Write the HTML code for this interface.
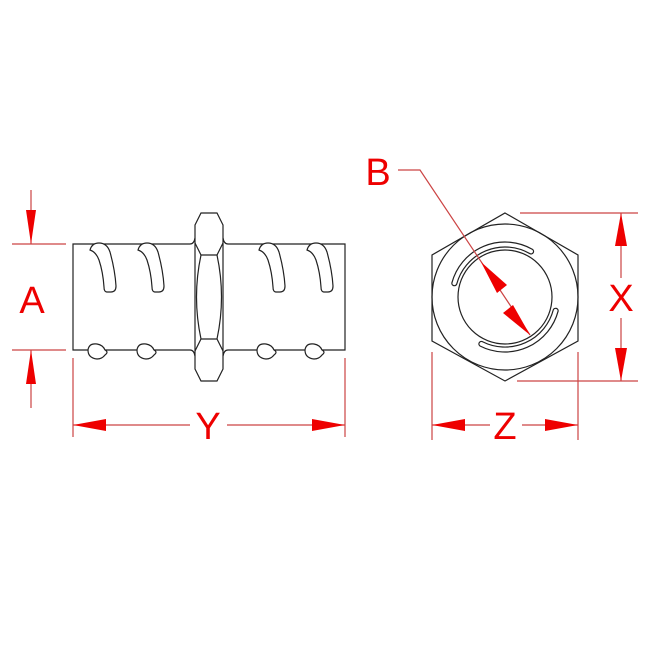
<!DOCTYPE html>
<html><head><style>html,body{margin:0;padding:0;background:#fff}</style></head><body>
<svg width="650" height="640" viewBox="0 0 650 640" xmlns="http://www.w3.org/2000/svg">
<defs>
<g id="thr" fill="#fff" stroke="#222" stroke-width="1.2">
<path d="M-11,0 Q-9,-7 -2,-7 Q6,-7 9,2 Q14,20 15,36 Q15,42 10,42 L6,42 Q3,42 3,37 Q2,22 -2,10 Q-5,2 -11,0 Z"/>
</g>
<g id="blob" fill="#fff" stroke="#222" stroke-width="1.2">
<path d="M-9,-1 Q-8,-8 0,-7 Q6,-6 8,-1 Q12,1 8,4 Q5,8 0,8 Q-9,7 -9,-1 Z"/>
</g>
</defs>
<g stroke="#222" stroke-width="1.2" fill="none">
<path d="M190,244 L73,244 L73,350 L190,350"/>
<path d="M228,244 L345,244 L345,350 L228,350"/>
<path d="M190,244 Q194,244 195,238 M190,350 Q194,350 195,356 M228,244 Q224,244 223,238 M228,350 Q224,350 223,356"/>
<path d="M201,213 L217,213 L223,225 L223,369 L217,381 L201,381 L195,369 L195,225 Z"/>
<path d="M195,243 L201,255 L217,255 L223,243 M195,351 L201,339 L217,339 L223,351"/>
<path d="M201,255 Q192,297 201,339 M217,255 Q226,297 217,339"/>
<polygon points="505,213 578,255 578,341 505,381 432,341 432,255"/>
<circle cx="505" cy="297" r="73"/>
<circle cx="505" cy="297" r="47"/>
<path d="M451.9,282.8 A55,55 0 0 1 532.5,249.4 A2.5,2.5 0 0 1 530,253.7 A50,50 0 0 0 456.7,284.1 A2.5,2.5 0 0 1 451.9,282.8 Z"/>
<path d="M558.1,311.2 A55,55 0 0 1 480,346 A2.5,2.5 0 0 1 482.3,341.6 A50,50 0 0 0 553.3,309.9 A2.5,2.5 0 0 1 558.1,311.2 Z"/>
</g>
<use href="#thr" x="101" y="250"/><use href="#thr" x="149" y="250"/>
<use href="#thr" x="270" y="250"/><use href="#thr" x="318" y="250"/>
<use href="#blob" x="97" y="351"/><use href="#blob" x="146" y="351"/>
<use href="#blob" x="266" y="351"/><use href="#blob" x="314" y="351"/>
<g stroke="#c44" stroke-width="1.2" fill="none">
<path d="M12,244 L66,244 M12,350 L66,350 M31,190 L31,244 M31,350 L31,408"/>
<path d="M73,358 L73,437 M345,358 L345,437 M73,425 L190,425 M227,425 L345,425"/>
<path d="M432,352 L432,440 M578,352 L578,440 M432,425 L490,425 M522,425 L578,425"/>
<path d="M520,213 L638,213 M517,381 L638,381 M621,213 L621,278 M621,318 L621,381"/>
<path d="M398,170 L420,170 L530,335"/>
</g>
<g fill="#e00">
<polygon points="31,244 26,210 36,210"/><polygon points="31,350 26,384 36,384"/>
<polygon points="73,425 106,419 106,431"/><polygon points="345,425 312,419 312,431"/>
<polygon points="432,425 465,419 465,431"/><polygon points="578,425 545,419 545,431"/>
<polygon points="621,213 615,246 627,246"/><polygon points="621,381 615,348 627,348"/>
<polygon points="481,262 507,285 497,293"/><polygon points="530,335 503,313 513,305"/>
</g>
<g fill="#e00" font-family="Liberation Sans, sans-serif" font-size="38" text-anchor="middle">
<text x="32" y="313">A</text>
<text x="208" y="439">Y</text>
<text x="505" y="439">Z</text>
<text x="621" y="311">X</text>
<text x="378" y="185">B</text>
</g>
</svg>
</body></html>
